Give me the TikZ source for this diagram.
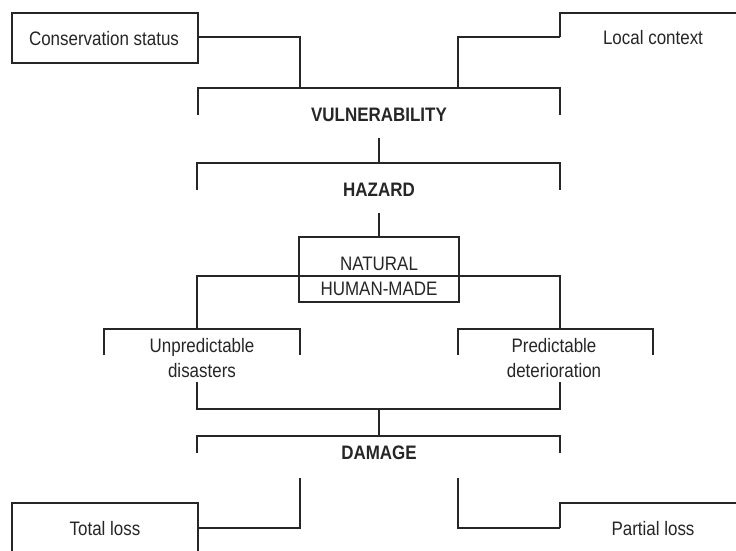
\documentclass[tikz,border=0pt]{standalone}
\usepackage{fontspec}
\setmainfont{Liberation Sans}[FakeStretch=0.87]
\begin{document}
\begin{tikzpicture}[x=1pt,y=-1pt,
  ln/.style={draw=black!85,line width=1.1pt},
  lbl/.style={inner sep=0pt,text=black!85,font=\fontsize{19.5}{25}\selectfont,align=center},
  blbl/.style={lbl,font=\fontsize{19.5}{25}\selectfont\bfseries}]
\useasboundingbox[fill=white] (0,0) rectangle (736,550);
% boxes
\node[ln,minimum width=186pt,minimum height=50pt,inner sep=0pt] (cs) at (105,38) {};
\node[lbl] (cst) at (104,39) {Conservation status};
\node[lbl] (lct) at (653,38) {Local context};
\coordinate (lc1) at (736,13);
\coordinate (lc2) at (560,13);
\coordinate (lc3) at (560,37);
\draw[ln] (lc1) -- (lc2) -- (lc3);
% vulnerability
\coordinate (v1) at (300,88);
\coordinate (v2) at (458,88);
\coordinate (vl) at (198,88);
\coordinate (vr) at (560,88);
\coordinate (vlb) at (198,115);
\coordinate (vrb) at (560,115);
\draw[ln] (cs.east |- 0,37) -| (v1);
\draw[ln] (lc3) -| (v2);
\draw[ln] (vlb) -- (vl) -- (vr) -- (vrb);
\node[blbl] (vul) at (379,114.5) {VULNERABILITY};
% hazard
\coordinate (h0) at (379,138);
\coordinate (h1) at (379,163);
\coordinate (hl) at (197,163);
\coordinate (hr) at (560,163);
\coordinate (hlb) at (197,190);
\coordinate (hrb) at (560,190);
\draw[ln] (h0) -- (h1);
\draw[ln] (hlb) -- (hl) -- (hr) -- (hrb);
\node[blbl] (haz) at (379,190) {HAZARD};
% natural / human-made box
\node[ln,minimum width=160pt,minimum height=65pt,inner sep=0pt] (nh) at (379,269.5) {};
\node[lbl] (nat) at (379,264) {NATURAL};
\node[lbl] (hum) at (379,289) {HUMAN-MADE};
\coordinate (h2) at (379,213);
\draw[ln] (h2) -- (nh.north);
\coordinate (sl) at (197,276);
\coordinate (sr) at (560,276);
\coordinate (slb) at (197,329);
\coordinate (srb) at (560,329);
\draw[ln] (slb) -- (sl) -- (sr) -- (srb);
% unpredictable / predictable
\coordinate (u1) at (104,355);
\coordinate (u2) at (104,329);
\coordinate (u3) at (300,329);
\coordinate (u4) at (300,355);
\draw[ln] (u1) -- (u2) -- (u3) -- (u4);
\node[lbl] (unp) at (202,358) {Unpredictable\\disasters};
\coordinate (p1) at (458,355);
\coordinate (p2) at (458,329);
\coordinate (p3) at (653,329);
\coordinate (p4) at (653,355);
\draw[ln] (p1) -- (p2) -- (p3) -- (p4);
\node[lbl] (pre) at (554,358) {Predictable\\deterioration};
% join to damage
\coordinate (j1) at (197,382);
\coordinate (j2) at (197,409);
\coordinate (j3) at (560,409);
\coordinate (j4) at (560,382);
\draw[ln] (j1) -- (j2) -- (j3) -- (j4);
\coordinate (jm) at (379,409);
\coordinate (d1) at (379,436);
\draw[ln] (jm) -- (d1);
\coordinate (dl) at (197,436);
\coordinate (dr) at (560,436);
\coordinate (dlb) at (197,453);
\coordinate (drb) at (560,453);
\draw[ln] (dlb) -- (dl) -- (dr) -- (drb);
\node[blbl] (dam) at (379,453) {DAMAGE};
% total loss
\coordinate (t1) at (12,551);
\coordinate (t2) at (12,503);
\coordinate (t3) at (198,503);
\coordinate (t4) at (198,551);
\draw[ln] (t1) -- (t2) -- (t3) -- (t4);
\node[lbl] (tot) at (105,529) {Total loss};
\coordinate (tc) at (300,478);
\coordinate (te) at (198,528);
\draw[ln] (tc) |- (te);
% partial loss
\coordinate (q1) at (736,503);
\coordinate (q2) at (560,503);
\coordinate (q3) at (560,528);
\draw[ln] (q1) -- (q2) -- (q3);
\node[lbl] (par) at (653,529) {Partial loss};
\coordinate (pc) at (458,478);
\draw[ln] (pc) |- (q3);
\end{tikzpicture}
\end{document}
